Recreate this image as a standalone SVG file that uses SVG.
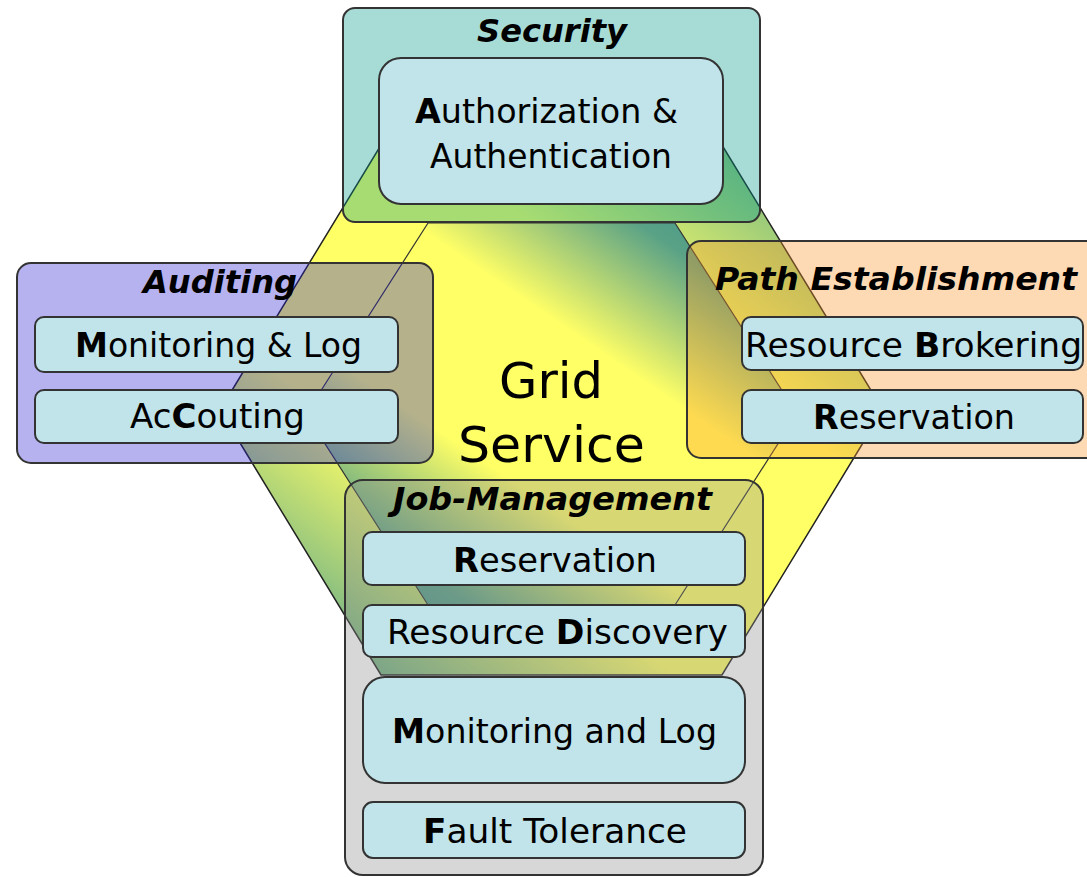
<svg xmlns="http://www.w3.org/2000/svg" width="1087" height="877" viewBox="0 0 1087 877">
<defs>
  <linearGradient id="gOuter" gradientUnits="userSpaceOnUse" x1="760" y1="140" x2="345" y2="680">
    <stop offset="0" stop-color="#74b682"/>
    <stop offset="0.3" stop-color="#ffff66"/>
    <stop offset="0.7" stop-color="#ffff66"/>
    <stop offset="1" stop-color="#5fa88a"/>
  </linearGradient>
  <linearGradient id="gInner" gradientUnits="userSpaceOnUse" x1="690" y1="212" x2="415" y2="615">
    <stop offset="0" stop-color="#4a9a88"/>
    <stop offset="0.08" stop-color="#5aa286"/>
    <stop offset="0.34" stop-color="#ffff66"/>
    <stop offset="0.66" stop-color="#ffff66"/>
    <stop offset="0.92" stop-color="#5aa286"/>
    <stop offset="1" stop-color="#4a9a88"/>
  </linearGradient>
  <style>
    .grp{stroke:#333;stroke-width:2}
    .sec{fill:rgb(3,154,137);fill-opacity:.35}
    .aud{fill:rgb(43,34,208);fill-opacity:.35}
    .pth{fill:rgb(248,149,40);fill-opacity:.35}
    .job{fill:rgb(140,140,140);fill-opacity:.35}
    .item{fill:#c0e4ea;stroke:#333;stroke-width:2}
    .hex{stroke:#222;stroke-width:1.5}
    .hexin{stroke:#333;stroke-width:1.2}
    text{font-family:"DejaVu Sans","Liberation Sans",sans-serif;fill:#000}
    .t{font-size:34px}
    .h{font-size:32px;font-weight:bold;font-style:italic}
    .big{font-size:50px}
    .b{font-weight:bold}
  </style>
</defs>
<rect width="1087" height="877" fill="#ffffff"/>

<g id="grid-service">
  <polygon class="hex" fill="url(#gOuter)" points="220,410 381,145 722,145 883,410 722,675 381,675"/>
  <polygon class="hexin" fill="url(#gInner)" points="306,414 428,223 675,223 797,414 675,605 428,605"/>
  <text class="big" x="499" y="398" textLength="104" lengthAdjust="spacingAndGlyphs">Grid</text>
  <text class="big" x="458" y="462" textLength="187" lengthAdjust="spacingAndGlyphs">Service</text>
</g>

<g id="connectors"></g>

<g id="security">
  <rect class="grp sec" x="343" y="8" width="417" height="214" rx="12"/>
  <text class="h" x="477" y="42" textLength="150" lengthAdjust="spacingAndGlyphs">Security</text>
  <g id="auth">
    <rect class="item" x="379" y="58" width="344" height="146" rx="22"/>
    <text class="t" x="415" y="123" textLength="263" lengthAdjust="spacingAndGlyphs"><tspan class="b">A</tspan>uthorization &amp;</text>
    <text class="t" x="430" y="168" textLength="242" lengthAdjust="spacingAndGlyphs">Authentication</text>
  </g>
</g>

<g id="auditing">
  <rect class="grp aud" x="17" y="263" width="416" height="200" rx="14"/>
  <text class="h" x="143" y="293" textLength="154" lengthAdjust="spacingAndGlyphs">Auditing</text>
  <g id="aud-monitoring">
    <rect class="item" x="35" y="317" width="363" height="55" rx="9"/>
    <text class="t" x="75" y="357" textLength="287" lengthAdjust="spacingAndGlyphs"><tspan class="b">M</tspan>onitoring &amp; Log</text>
  </g>
  <g id="aud-accounting">
    <rect class="item" x="35" y="390" width="363" height="53" rx="9"/>
    <text class="t" x="130" y="428" textLength="175" lengthAdjust="spacingAndGlyphs">Ac<tspan class="b">C</tspan>outing</text>
  </g>
</g>

<g id="path-establishment">
  <rect class="grp pth" x="687" y="241" width="420" height="217" rx="14"/>
  <text class="h" x="715" y="290" textLength="362" lengthAdjust="spacingAndGlyphs">Path Establishment</text>
  <g id="path-brokering">
    <rect class="item" x="742" y="317" width="341" height="53" rx="9"/>
    <text class="t" x="745" y="357" textLength="337" lengthAdjust="spacingAndGlyphs">Resource <tspan class="b">B</tspan>rokering</text>
  </g>
  <g id="path-reservation">
    <rect class="item" x="742" y="390" width="341" height="53" rx="9"/>
    <text class="t" x="813" y="429" textLength="202" lengthAdjust="spacingAndGlyphs"><tspan class="b">R</tspan>eservation</text>
  </g>
</g>

<g id="job-management">
  <rect class="grp job" x="345" y="480" width="418" height="395" rx="18"/>
  <text class="h" x="393" y="510" textLength="319" lengthAdjust="spacingAndGlyphs">Job-Management</text>
  <g id="job-reservation">
    <rect class="item" x="363" y="532" width="382" height="53" rx="9"/>
    <text class="t" x="453" y="572" textLength="204" lengthAdjust="spacingAndGlyphs"><tspan class="b">R</tspan>eservation</text>
  </g>
  <g id="job-discovery">
    <rect class="item" x="363" y="605" width="382" height="52" rx="9"/>
    <text class="t" x="387" y="644" textLength="341" lengthAdjust="spacingAndGlyphs">Resource <tspan class="b">D</tspan>iscovery</text>
  </g>
  <g id="job-monitoring">
    <rect class="item" x="363" y="677" width="382" height="106" rx="22"/>
    <text class="t" x="392" y="743" textLength="325" lengthAdjust="spacingAndGlyphs"><tspan class="b">M</tspan>onitoring and Log</text>
  </g>
  <g id="job-fault">
    <rect class="item" x="363" y="802" width="382" height="56" rx="10"/>
    <text class="t" x="423" y="843" textLength="264" lengthAdjust="spacingAndGlyphs"><tspan class="b">F</tspan>ault Tolerance</text>
  </g>
</g>
</svg>
